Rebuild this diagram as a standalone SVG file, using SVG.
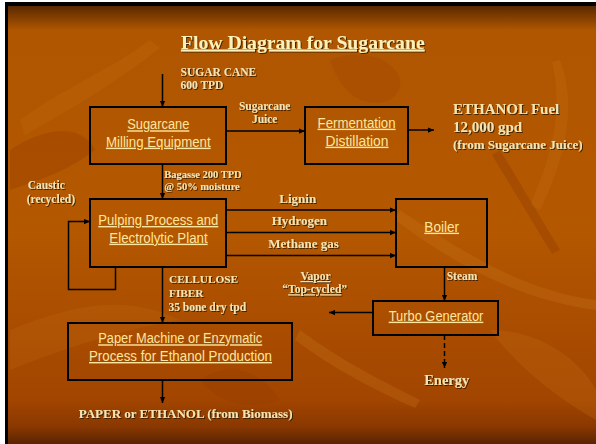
<svg xmlns="http://www.w3.org/2000/svg" width="596" height="444" viewBox="0 0 596 444">
<defs>
<linearGradient id="bg" x1="0" y1="6" x2="0" y2="444" gradientUnits="userSpaceOnUse">
<stop offset="0" stop-color="#5a2900"/>
<stop offset="0.055" stop-color="#b05600"/>
<stop offset="0.5" stop-color="#b45800"/>
<stop offset="0.9" stop-color="#a24500"/>
<stop offset="0.96" stop-color="#8a3800"/>
<stop offset="1" stop-color="#5a2400"/>
</linearGradient>
<filter id="sh" x="-5%" y="-20%" width="110%" height="150%">
<feDropShadow dx="1" dy="1" stdDeviation="0.3" flood-color="#2a1200" flood-opacity="0.85"/>
</filter>
<marker id="ah" viewBox="0 0 8 8" refX="8" refY="4" markerWidth="6" markerHeight="6" markerUnits="userSpaceOnUse" orient="auto">
<path d="M0,0.5 L8,4 L0,7.5 Z" fill="#000"/>
</marker>
<style>
.box{fill:none;stroke:#000;stroke-width:2}
.ln{fill:none;stroke:#000;stroke-width:1.5}
.bt{font-family:"Liberation Sans",Arial,sans-serif;font-size:14px;fill:#ffe69e;text-anchor:middle;text-decoration:underline}
.lb{font-family:"Liberation Serif","Times New Roman",serif;font-weight:bold;fill:#f5e4b2;filter:url(#sh)}
</style>
</defs>
<g id="background">
<rect x="0" y="0" width="596" height="444" fill="#ffffff"/>
<rect x="5" y="2" width="591" height="442" fill="#000"/>
<rect x="8" y="6" width="588" height="438" fill="url(#bg)"/>
<path d="M20,120 C60,90 110,70 150,40 L160,48 C120,80 70,110 25,135 Z" fill="#c06a10" opacity="0.3"/>
<path d="M10,150 C40,130 80,120 95,150 C70,170 40,180 10,190 Z" fill="#953c00" opacity="0.35"/>
<path d="M330,60 C380,40 420,80 390,100 C360,110 340,90 330,60 Z" fill="#9c4200" opacity="0.3"/>
<path d="M560,60 C580,110 560,170 540,210 L530,205 C548,165 565,115 552,62 Z" fill="#c26d12" opacity="0.3"/>
<path d="M500,150 L560,250 L552,254 L492,155 Z" fill="#8f3a00" opacity="0.35"/>
<path d="M400,210 C460,250 520,290 596,300 L596,310 C520,300 455,265 395,220 Z" fill="#c8741a" opacity="0.3"/>
<path d="M10,330 C60,310 120,290 180,320 C120,330 60,350 10,370 Z" fill="#c06a10" opacity="0.25"/>
<path d="M300,330 C340,360 380,380 420,400 L415,408 C375,390 335,370 295,340 Z" fill="#c8741a" opacity="0.3"/>
<path d="M490,330 C540,330 580,360 596,390 L596,420 C560,400 520,370 490,330 Z" fill="#c06a10" opacity="0.3"/>
<path d="M200,380 C230,360 260,370 280,400 C250,410 220,405 200,380 Z" fill="#963d00" opacity="0.3"/>
</g>
<g id="title">
<text class="lb" x="302.8" y="48.5" font-size="19.7" text-anchor="middle" style="text-decoration:underline;fill:#fff1b8">Flow Diagram for Sugarcane</text>
</g>
<g id="connectors">
<path class="ln" d="M162.5,74 V107" marker-end="url(#ah)"/>
<path class="ln" d="M226,131 H305" marker-end="url(#ah)"/>
<path class="ln" d="M408,130 H434" marker-end="url(#ah)"/>
<path class="ln" d="M162.5,164 V199" marker-end="url(#ah)"/>
<path class="ln" d="M115.5,267 V289.5 H68.5 V221.5 H90" marker-end="url(#ah)"/>
<path class="ln" d="M226,210 H396" marker-end="url(#ah)"/>
<path class="ln" d="M226,232.5 H396" marker-end="url(#ah)"/>
<path class="ln" d="M226,255.5 H396" marker-end="url(#ah)"/>
<path class="ln" d="M162.5,267 V323" marker-end="url(#ah)"/>
<path class="ln" d="M162.5,380 V403" marker-end="url(#ah)"/>
<path class="ln" d="M444.5,267 V301" marker-end="url(#ah)"/>
<path class="ln" d="M373,312.5 H329" marker-end="url(#ah)"/>
<path class="ln" d="M444.5,335 V368" stroke-width="2" stroke-dasharray="5,3" marker-end="url(#ah)"/>
</g>
<g id="labels">
<text class="lb" font-size="11.5"><tspan x="180.5" y="76">SUGAR CANE</tspan><tspan x="180.5" y="89.3">600 TPD</tspan></text>
<text class="lb" font-size="11.5" text-anchor="middle"><tspan x="264.7" y="110">Sugarcane</tspan><tspan x="264.7" y="123.3">Juice</tspan></text>
<text class="lb" font-size="15"><tspan x="453" y="114">ETHANOL Fuel</tspan><tspan x="453" y="132.3">12,000 gpd</tspan></text>
<text class="lb" font-size="13" x="453" y="149">(from Sugarcane Juice)</text>
<text class="lb" font-size="10.5"><tspan x="164.3" y="178.3">Bagasse 200 TPD</tspan><tspan x="164.3" y="190">@ 50% moisture</tspan></text>
<text class="lb" font-size="11.5"><tspan x="27.7" y="189.3">Caustic</tspan><tspan x="26.7" y="203.3">(recycled)</tspan></text>
<text class="lb" font-size="13" x="279.3" y="202.7">Lignin</text>
<text class="lb" font-size="13" x="271.7" y="225">Hydrogen</text>
<text class="lb" font-size="13" x="268.3" y="248.3">Methane gas</text>
<text class="lb" font-size="11.5" x="446.7" y="280">Steam</text>
<text class="lb" font-size="11.5" x="315.5" y="280" text-anchor="middle" style="text-decoration:underline">Vapor</text>
<text class="lb" font-size="11.5" x="314.7" y="293.3" text-anchor="middle">“<tspan style="text-decoration:underline">Top-cycled</tspan>”</text>
<text class="lb" font-size="11.3"><tspan x="169" y="283.3">CELLULOSE</tspan><tspan x="169" y="296.7">FIBER</tspan></text>
<text class="lb" font-size="11.5" x="168.4" y="310.7">35 bone dry tpd</text>
<text class="lb" font-size="14.5" x="446.7" y="385" text-anchor="middle">Energy</text>
<text class="lb" font-size="13" x="78.7" y="418.3">PAPER or ETHANOL (from Biomass)</text>
</g>
<g id="milling">
<rect class="box" x="90" y="107" width="136" height="57"/>
<text class="bt" x="158.3" y="129.3" textLength="62" lengthAdjust="spacingAndGlyphs">Sugarcane</text>
<text class="bt" x="158.3" y="146.7" textLength="104.7" lengthAdjust="spacingAndGlyphs">Milling Equipment</text>
</g>
<g id="fermentation">
<rect class="box" x="305" y="107" width="103" height="57"/>
<text class="bt" x="356.6" y="127.7" textLength="78" lengthAdjust="spacingAndGlyphs">Fermentation</text>
<text class="bt" x="357" y="145.7" textLength="63" lengthAdjust="spacingAndGlyphs">Distillation</text>
</g>
<g id="pulping">
<rect class="box" x="90" y="199" width="136" height="68"/>
<text class="bt" x="158.3" y="225" textLength="120" lengthAdjust="spacingAndGlyphs">Pulping Process and</text>
<text class="bt" x="158.5" y="242.7" textLength="98.3" lengthAdjust="spacingAndGlyphs">Electrolytic Plant</text>
</g>
<g id="boiler">
<rect class="box" x="396" y="199" width="91" height="68"/>
<text class="bt" x="441.7" y="231.7" textLength="34.7" lengthAdjust="spacingAndGlyphs">Boiler</text>
</g>
<g id="turbo">
<rect class="box" x="373" y="301" width="125" height="34"/>
<text class="bt" x="436" y="320.7" textLength="94.7" lengthAdjust="spacingAndGlyphs">Turbo Generator</text>
</g>
<g id="paper">
<rect class="box" x="68" y="323" width="224" height="57"/>
<text class="bt" x="180.2" y="343.3" textLength="164" lengthAdjust="spacingAndGlyphs">Paper Machine or Enzymatic</text>
<text class="bt" x="180.5" y="361" textLength="183" lengthAdjust="spacingAndGlyphs">Process for Ethanol Production</text>
</g>
</svg>
